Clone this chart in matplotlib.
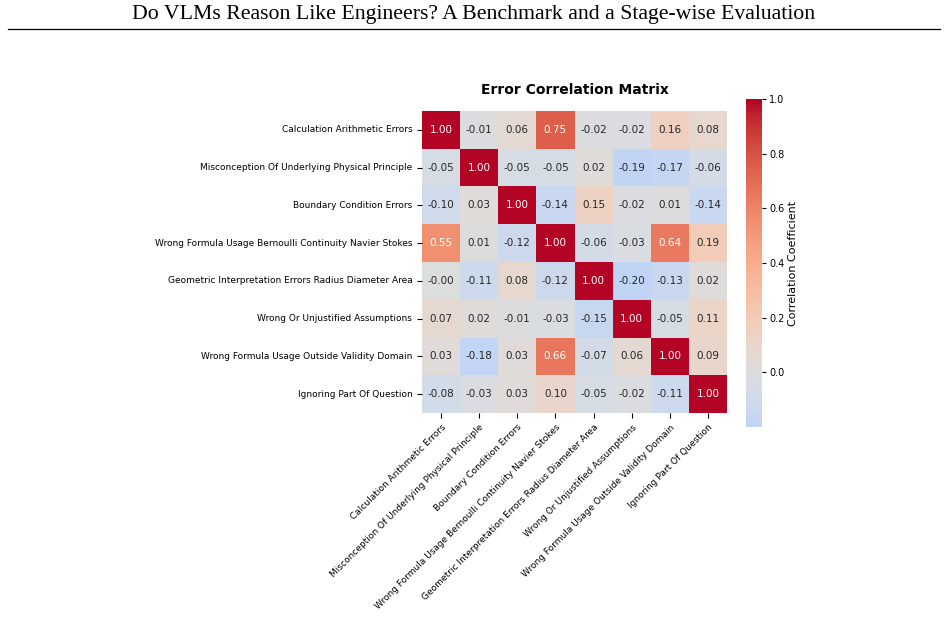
import numpy as np
import matplotlib
matplotlib.use("Agg")
import matplotlib.pyplot as plt
import seaborn as sns

labels = [
    "Calculation Arithmetic Errors",
    "Misconception Of Underlying Physical Principle",
    "Boundary Condition Errors",
    "Wrong Formula Usage Bernoulli Continuity Navier Stokes",
    "Geometric Interpretation Errors Radius Diameter Area",
    "Wrong Or Unjustified Assumptions",
    "Wrong Formula Usage Outside Validity Domain",
    "Ignoring Part Of Question",
]

row_calc = [1.00, -0.01, 0.06, 0.75, -0.02, -0.02, 0.16, 0.08]
row_misc = [-0.05, 1.00, -0.05, -0.05, 0.02, -0.19, -0.17, -0.06]
row_bound = [-0.10, 0.03, 1.00, -0.14, 0.15, -0.02, 0.01, -0.14]
row_bern = [0.55, 0.01, -0.12, 1.00, -0.06, -0.03, 0.64, 0.19]
row_geom = [-0.00, -0.11, 0.08, -0.12, 1.00, -0.20, -0.13, 0.02]
row_assum = [0.07, 0.02, -0.01, -0.03, -0.15, 1.00, -0.05, 0.11]
row_valid = [0.03, -0.18, 0.03, 0.66, -0.07, 0.06, 1.00, 0.09]
row_ignore = [-0.08, -0.03, 0.03, 0.10, -0.05, -0.02, -0.11, 1.00]

cbar_ticks = [0.0, 0.2, 0.4, 0.6, 0.8, 1.0]

data = np.array([row_calc, row_misc, row_bound, row_bern,
                 row_geom, row_assum, row_valid, row_ignore])

W, H = 948, 618
fig = plt.figure(figsize=(W / 100, H / 100), dpi=100)

# page header
fig.text(0.5, 1 - 15 / H, "Do VLMs Reason Like Engineers? A Benchmark and a Stage-wise Evaluation",
         ha="center", va="center", family="Liberation Serif", fontsize=15.7)
fig.add_artist(plt.Line2D([8 / W, 940 / W], [1 - 29 / H, 1 - 29 / H],
                          color="black", lw=0.9, transform=fig.transFigure))

ax = fig.add_axes([422 / W, 1 - 413 / H, 305 / W, 302 / H])
cax = fig.add_axes([746 / W, 1 - 427 / H, 16 / W, 328 / H])

sns.heatmap(data, ax=ax, cbar_ax=cax, cmap="coolwarm", center=0,
            vmin=-0.2, vmax=1.0, annot=True, fmt=".2f",
            annot_kws={"fontsize": 7.5},
            xticklabels=labels, yticklabels=labels,
            cbar_kws={"label": "Correlation Coefficient", "ticks": cbar_ticks})

ax.set_title("Error Correlation Matrix", fontsize=10, fontweight="bold", pad=12)
ax.set_xticklabels(labels, rotation=45, ha="right", rotation_mode="anchor", fontsize=6.5)
ax.set_yticklabels(labels, rotation=0, fontsize=6.5)
cax.tick_params(labelsize=7, length=3, pad=2)
cax.yaxis.label.set_size(8)
cax.yaxis.labelpad = 3
for s in cax.spines.values():
    s.set_visible(False)

fig.savefig("out.png", dpi=100)
